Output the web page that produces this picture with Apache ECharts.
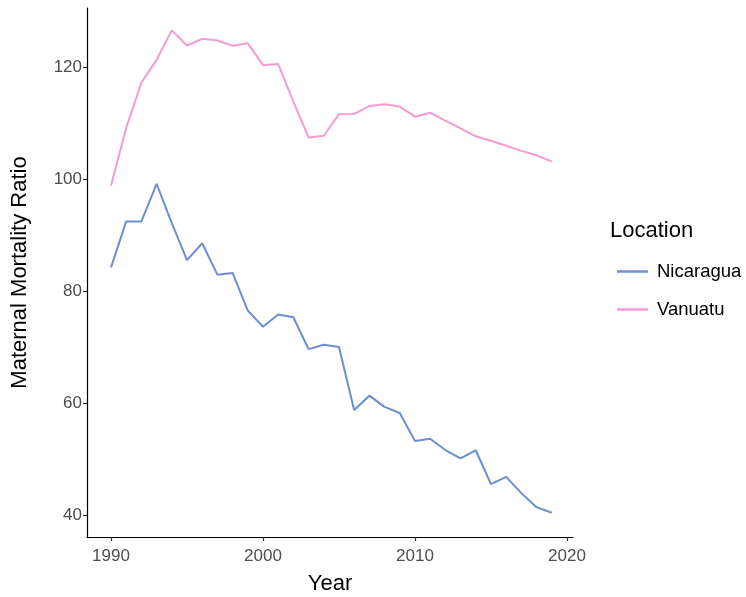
<!DOCTYPE html>
<html>
<head>
<meta charset="utf-8">
<script src="https://cdn.jsdelivr.net/npm/echarts@6/dist/echarts.min.js"></script>
<style>
html,body{margin:0;padding:0;background:#fff;}
#chart{width:746px;height:597px;}
</style>
</head>
<body>
<div id="chart"></div>
<script>
const years = [1990,1991,1992,1993,1994,1995,1996,1997,1998,1999,2000,2001,2002,2003,2004,2005,2006,2007,2008,2009,2010,2011,2012,2013,2014,2015,2016,2017,2018,2019];
const nicaragua = [84.2,92.4,92.4,99.1,92.1,85.5,88.5,82.9,83.2,76.5,73.6,75.8,75.3,69.6,70.4,70.0,58.75,61.3,59.3,58.2,53.2,53.6,51.6,50.1,51.55,45.5,46.8,43.9,41.4,40.4];
const vanuatu = [98.8,109.1,117.2,121.25,126.5,123.8,125.0,124.7,123.75,124.2,120.3,120.5,113.8,107.4,107.7,111.55,111.6,113.0,113.3,112.9,111.1,111.8,110.4,109.0,107.6,106.8,105.9,105.0,104.2,103.1];
const xTicks = [1990,2000,2010,2020];
const yTicks = [40,60,80,100,120];
const seriesNames = ['Nicaragua','Vanuatu'];
const colors = ['#6B8ED4','#F59BD0'];

const chart = echarts.init(document.getElementById('chart'), null, {renderer:'canvas'});
const font = 'Liberation Sans, Arial, sans-serif';
const axisCommon = {
  axisLine:{show:true, onZero:false, lineStyle:{color:'#000', width:1.2}},
  splitLine:{show:false},
  nameTextStyle:{color:'#000', fontSize:22, fontFamily:font}
};
chart.setOption({
  animation:false,
  backgroundColor:'#fff',
  color: colors,
  grid:{left:87, right:173, top:8, bottom:60, containLabel:false, outerBoundsMode:'none'},
  xAxis: Object.assign({}, axisCommon, {
    type:'value', min:1988.42, max:2020.4,
    name:'Year', nameLocation:'middle', nameGap:36,
    axisTick:{show:true, length:4, lineStyle:{color:'#333', width:1.2}, customValues:xTicks},
    axisLabel:{color:'#4d4d4d', fontSize:17, fontFamily:font, margin:11, customValues:xTicks, formatter:v=>String(v)}
  }),
  yAxis: Object.assign({}, axisCommon, {
    type:'value', min:36.07, max:130.5,
    name:'Maternal Mortality Ratio', nameLocation:'middle', nameGap:56,
    axisTick:{show:true, length:4, lineStyle:{color:'#333', width:1.2}, customValues:yTicks},
    axisLabel:{color:'#4d4d4d', fontSize:17, fontFamily:font, margin:5, customValues:yTicks, formatter:v=>String(v)}
  }),
  legend:{
    orient:'vertical', left:612, top:257, icon:'rect', itemWidth:31, itemHeight:2.5, itemGap:19,
    textStyle:{color:'#000', fontSize:18.5, fontFamily:font, padding:[0,0,0,4]},
    data: seriesNames
  },
  graphic:[{type:'text', left:610, top:220, style:{text:'Location', fill:'#000', font:'22px '+font}}],
  series:[
    {name:seriesNames[0], type:'line', data: years.map((y,i)=>[y,nicaragua[i]]), showSymbol:false, symbol:'none', lineStyle:{width:2, color:colors[0]}, itemStyle:{color:colors[0]}},
    {name:seriesNames[1], type:'line', data: years.map((y,i)=>[y,vanuatu[i]]), showSymbol:false, symbol:'none', lineStyle:{width:2, color:colors[1]}, itemStyle:{color:colors[1]}}
  ]
});
</script>
</body>
</html>
